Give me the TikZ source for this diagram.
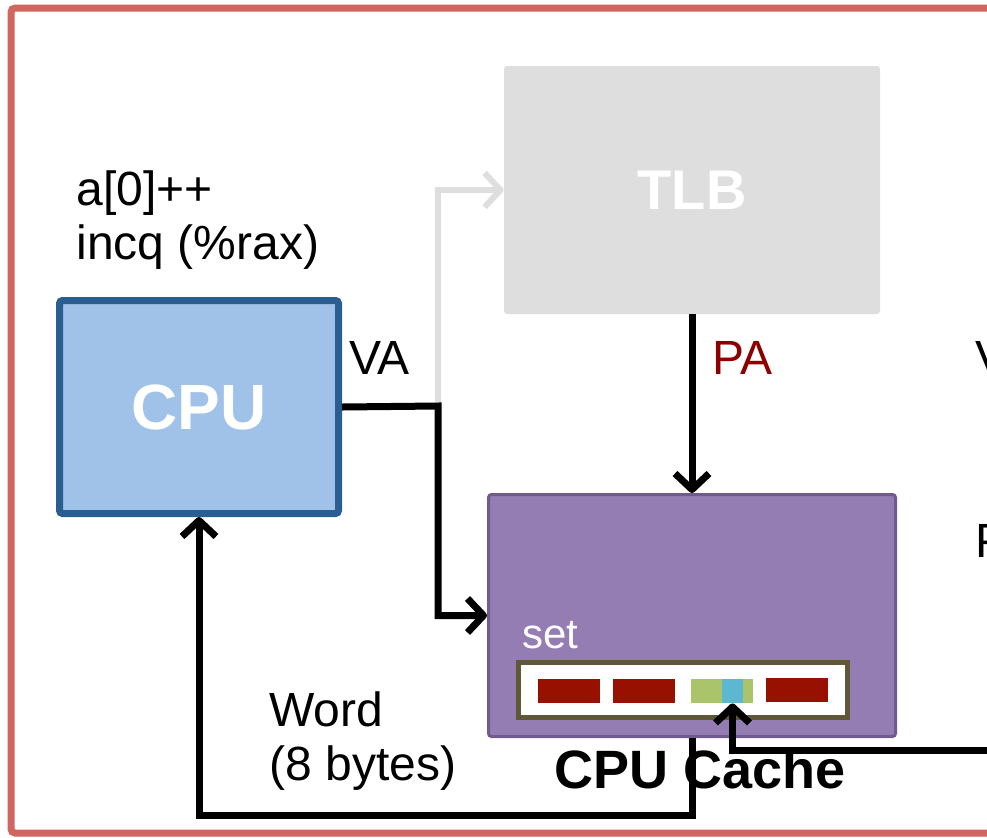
\documentclass[tikz,border=0pt]{standalone}
\usepackage{fontspec}
\setmainfont{Liberation Sans}
\usepackage{xcolor}
\definecolor{frame}{RGB}{207, 102, 96}
\definecolor{tlbgray}{RGB}{222, 222, 222}
\definecolor{cpufill}{RGB}{160, 194, 232}
\definecolor{cpuborder}{RGB}{42, 94, 146}
\definecolor{cachefill}{RGB}{148, 125, 178}
\definecolor{cacheborder}{RGB}{113, 90, 140}
\definecolor{setborder}{RGB}{94, 88, 56}
\definecolor{linered}{RGB}{152, 16, 0}
\definecolor{linegreen}{RGB}{170, 196, 108}
\definecolor{wordblue}{RGB}{91, 184, 208}
\definecolor{addrred}{RGB}{140, 0, 0}
\usetikzlibrary{arrows.meta,positioning}

\begin{document}
\begin{tikzpicture}[x=0.5pt, y=-0.5pt,
  unit/.style={rounded corners=1.5pt, inner sep=0pt},
  tag/.style={font=\fontsize{24}{27}\selectfont, inner sep=0pt, align=left},
  flow/.style={-{Straight Barb[length=8pt, width=17pt, line join=round]}, line width=3.5pt},
  ghost/.style={flow, line width=3pt, color=tlbgray},
  slot/.style={minimum width=31pt, minimum height=12pt, inner sep=0pt}
]
\useasboundingbox (0,0) rectangle (987,837);
\clip (0,0) rectangle (987,837);
\draw[frame, line width=3.5pt, rounded corners=2pt] (11,8) rectangle (1010,833);

\node[unit, fill=tlbgray, minimum width=188pt, minimum height=124pt, text=white, font=\fontsize{28}{32}\selectfont\bfseries] (tlb) at (692,190) {TLB};
\node[unit, draw=cpuborder, line width=3.5pt, fill=cpufill, minimum width=139.5pt, minimum height=106.5pt, text=white, font=\fontsize{32}{38}\selectfont\bfseries] (cpu) at (199,407) {CPU};
\node[unit, draw=cacheborder, line width=1.5pt, fill=cachefill, minimum width=203.5pt, minimum height=121pt] (cache) at (692,615.5) {};
\node[draw=setborder, line width=2.5pt, fill=white, minimum width=164.5pt, minimum height=27.5pt, inner sep=0pt] (set) at (683,690) {};
\node[slot, fill=linered] (line1) at (569,691) {};
\node[slot, fill=linered] (line2) at (644,691) {};
\node[slot, fill=linegreen] (line3) at (722,691) {};
\node[slot, fill=linered] (line4) at (797,690) {};
\node[slot, fill=wordblue, minimum width=10.5pt] (word) at (732.5,691) {};

\coordinate (split) at (438,406);
\coordinate (memin) at (1000,750);
\draw[ghost] (split) |- (tlb.west);
\draw[flow] (cpu.east) -- (split) |- (cache.west);
\draw[flow] (tlb.south) -- (cache.north);
\draw[flow] (cache.south) -- ++(0,77) -| (cpu.south);
\draw[flow] (memin) -| (word.south);

\node[tag, anchor=base west] (code) at (76,259) {a[0]++\\incq (\%rax)};
\node[tag, anchor=base west] (va) at (349,374) {VA};
\node[tag, anchor=base west, text=addrred] (pa) at (712,374) {PA};
\node[tag, anchor=base west] (vaout) at (975,374) {V};
\node[tag, anchor=base west] (paout) at (975,557) {P};
\node[tag, anchor=base west] (wordlabel) at (269,780) {Word\\(8 bytes)};
\node[tag, anchor=base west, text=white, font=\fontsize{21}{25}\selectfont] (setlabel) at (522,648) {set};
\node[anchor=base, inner sep=0pt, font=\fontsize{27}{32}\selectfont\bfseries] (cachelabel) at (700,788) {CPU Cache};
\end{tikzpicture}
\end{document}
